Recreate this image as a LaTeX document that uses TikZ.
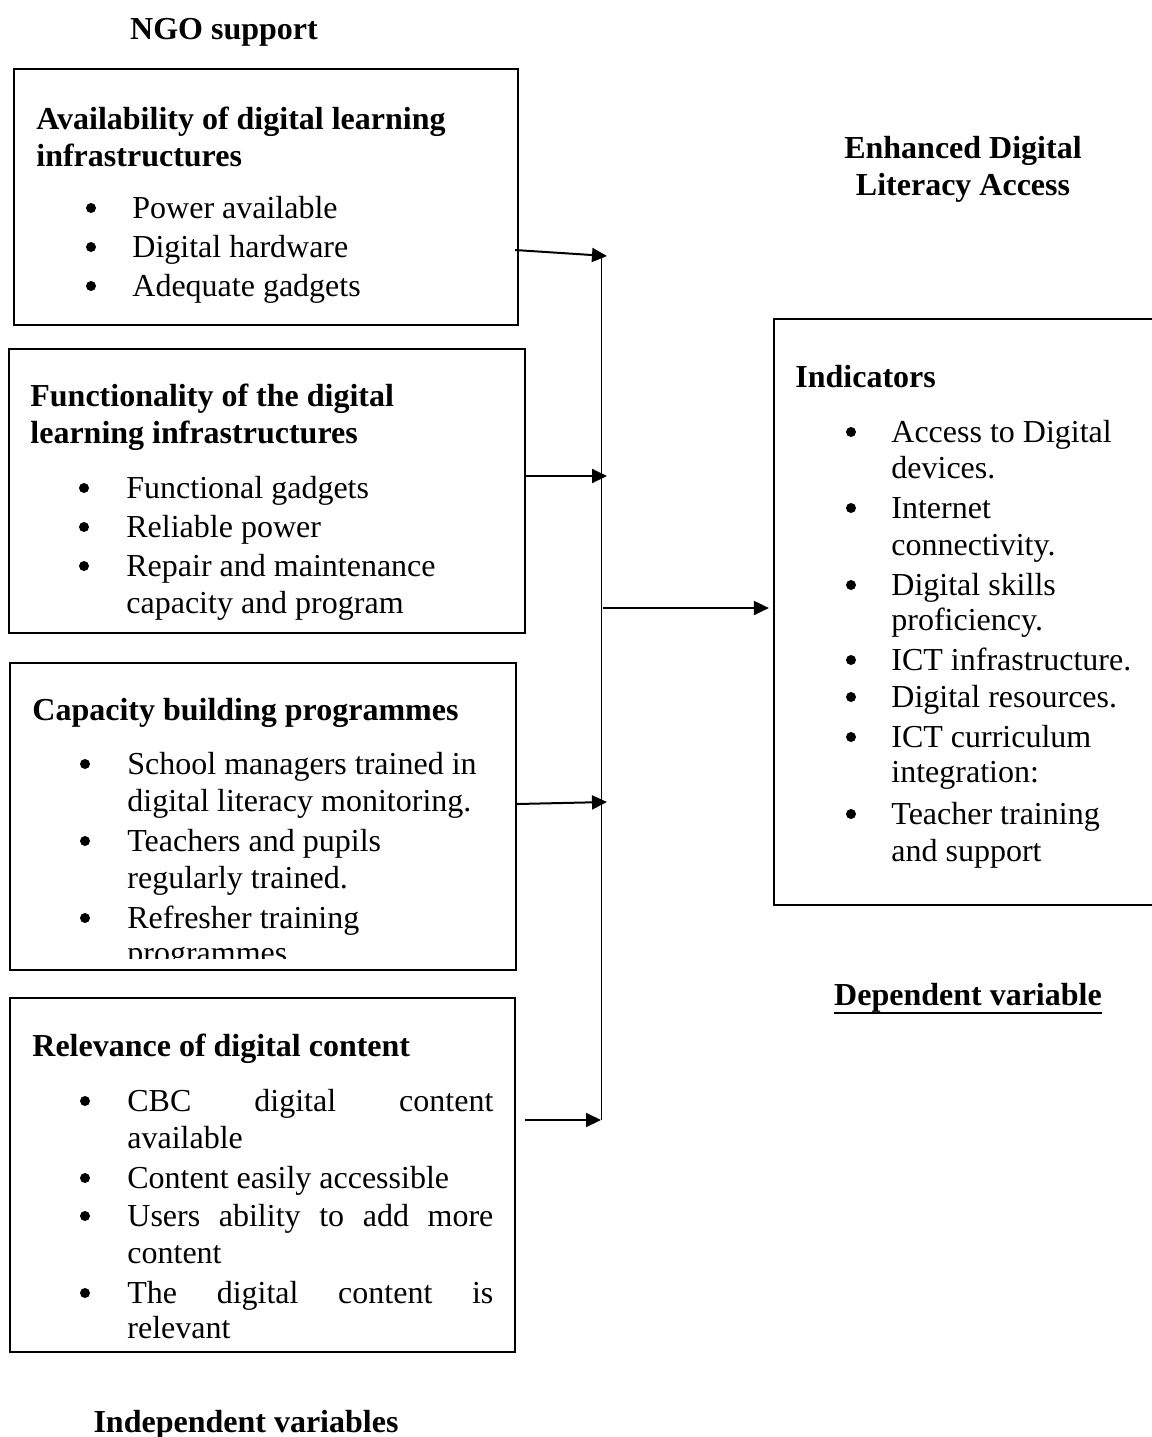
\documentclass[tikz,border=0pt]{standalone}
\usepackage{fontspec}
\setmainfont{Liberation Serif}
\usetikzlibrary{arrows.meta,fit,calc}
\begin{document}
\begin{tikzpicture}[x=0.5pt,y=-0.5pt]
\tikzset{
  box/.style={draw, line width=1.1pt, inner sep=0pt},
  hd/.style={anchor=base west, inner sep=0pt, font=\bfseries\fontsize{16}{19}\selectfont},
  tx/.style={anchor=base west, inner sep=0pt, font=\fontsize{16}{19}\selectfont},
  bul/.style={circle, fill, inner sep=0pt, minimum size=5pt},
  ttl/.style={anchor=base, inner sep=0pt, font=\bfseries\fontsize{16}{19}\selectfont},
  arr/.style={line width=1pt, -{Triangle[length=7.5pt,width=7pt]}},
  trunk/.style={line width=0.5pt}
}
\useasboundingbox (0,0) rectangle (1152,1437);

% titles
\node[ttl] (ngo) at (224,39) {NGO support};
\node[ttl] (dep1) at (963,158) {Enhanced Digital};
\node[ttl] (dep2) at (963,195) {Literacy Access};
\node[ttl] (depv) at (968,1005) {Dependent variable};
\draw[line width=1.3pt] ($(depv.base west)+(0,8)$) -- ($(depv.base east)+(0,8)$);
\node[ttl] (indv) at (246,1432) {Independent variables};

% boxes
\node[box, fit={(14,69) (518,325)}] (b1) {};
\node[box, fit={(9,349) (525,633)}] (b2) {};
\node[box, fit={(10,663) (516,970)}] (b3) {};
\node[box, fit={(10,998) (515,1352)}] (b4) {};
\node[box, fit={(774,319) (1156,905)}] (ind) {};

% box 1
\node[hd] (b1h1) at (36,129) {Availability of digital learning};
\node[hd] (b1h2) at (36,166) {infrastructures};
\node[bul] (b1b1) at (91,208) {};
\node[tx] (b1t1) at (132,218) {Power available};
\node[bul] (b1b2) at (91,247) {};
\node[tx] (b1t2) at (132,257) {Digital hardware};
\node[bul] (b1b3) at (91,286) {};
\node[tx] (b1t3) at (132,296) {Adequate gadgets};

% box 2
\node[hd] (b2h1) at (30,406) {Functionality of the digital};
\node[hd] (b2h2) at (30,443) {learning infrastructures};
\node[bul] (b2b1) at (84,488) {};
\node[tx] (b2t1) at (126,498) {Functional gadgets};
\node[bul] (b2b2) at (84,527) {};
\node[tx] (b2t2) at (126,537) {Reliable power};
\node[bul] (b2b3) at (84,566) {};
\node[tx] (b2t3) at (126,576) {Repair and maintenance};
\node[tx] (b2t4) at (126,613) {capacity and program};

% box 3
\node[hd] (b3h1) at (32,720) {Capacity building programmes};
\node[bul] (b3b1) at (85,764) {};
\node[tx] (b3t1) at (127,774) {School managers trained in};
\node[tx] (b3t2) at (127,811) {digital literacy monitoring.};
\node[bul] (b3b2) at (85,841) {};
\node[tx] (b3t3) at (127,851) {Teachers and pupils};
\node[tx] (b3t4) at (127,888) {regularly trained.};
\node[bul] (b3b3) at (85,918) {};
\node[tx] (b3t5) at (127,928) {Refresher training};
\begin{scope}
  \clip (20,900) rectangle (510,958);
  \node[tx] (b3t6) at (127,963) {programmes};
\end{scope}

% box 4
\node[hd] (b4h1) at (32,1056) {Relevance of digital content};
\node[bul] (b4b1) at (85,1101) {};
\node[tx] (b4t1) at (127,1111) {\makebox[183pt][s]{CBC digital content}};
\node[tx] (b4t2) at (127,1148) {available};
\node[bul] (b4b2) at (85,1178) {};
\node[tx] (b4t3) at (127,1188) {Content easily accessible};
\node[bul] (b4b3) at (85,1216) {};
\node[tx] (b4t4) at (127,1226) {\makebox[183pt][s]{Users ability to add more}};
\node[tx] (b4t5) at (127,1263) {content};
\node[bul] (b4b4) at (85,1293) {};
\node[tx] (b4t6) at (127,1303) {\makebox[183pt][s]{The digital content is}};
\node[tx] (b4t7) at (127,1338) {relevant};

% indicators box
\node[hd] (inh) at (795,387) {Indicators};
\node[bul] (inb1) at (851,432) {};
\node[tx] (int1) at (891,442) {Access to Digital};
\node[tx] (int2) at (891,478) {devices.};
\node[bul] (inb2) at (851,508) {};
\node[tx] (int3) at (891,518) {Internet};
\node[tx] (int4) at (891,555) {connectivity.};
\node[bul] (inb3) at (851,585) {};
\node[tx] (int5) at (891,595) {Digital skills};
\node[tx] (int6) at (891,630) {proficiency.};
\node[bul] (inb4) at (851,660) {};
\node[tx] (int7) at (891,670) {ICT infrastructure.};
\node[bul] (inb5) at (851,697) {};
\node[tx] (int8) at (891,707) {Digital resources.};
\node[bul] (inb6) at (851,737) {};
\node[tx] (int9) at (891,747) {ICT curriculum};
\node[tx] (int10) at (891,782) {integration:};
\node[bul] (inb7) at (851,814) {};
\node[tx] (int11) at (891,824) {Teacher training};
\node[tx] (int12) at (891,861) {and support};

% junction points on the collecting line
\coordinate (j1) at (607,256);
\coordinate (j2) at (607,476);
\coordinate (j3) at (607,802);
\coordinate (top) at (601,256);
\coordinate (bot) at (601,1120);
\coordinate (mid) at (601,608);

% collecting line
\draw[trunk] (top) -- (bot);

% arrows from the independent variables
\draw[arr] ($(b1.east |- 0,250)+(-4,0)$) -- (j1);
\draw[arr] (b2.east |- j2) -- (j2);
\draw[arr] ($(b3.east |- 0,804)$) -- (j3);
\draw[arr] ($(b4.east |- bot)+(9,0)$) -- (bot);

% arrow to the dependent variable
\draw[arr, shorten >=2pt] ($(mid)+(2,0)$) -- (ind.west |- mid);
\end{tikzpicture}
\end{document}
